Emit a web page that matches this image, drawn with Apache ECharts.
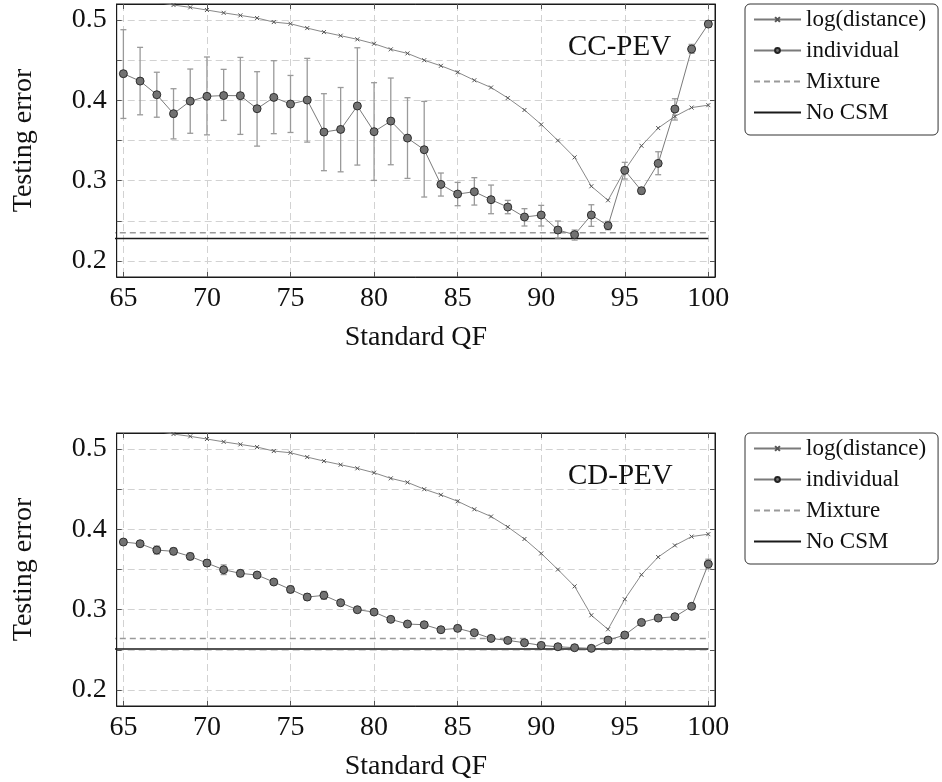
<!DOCTYPE html>
<html>
<head>
<meta charset="utf-8">
<script src="https://cdn.jsdelivr.net/npm/echarts@6/dist/echarts.min.js"></script>
<style>
html,body{margin:0;padding:0;background:#fff;}
#chart{width:942px;height:782px;}
</style>
</head>
<body>
<div id="chart"></div>
<script>
// ---- data ----
const qf = [65,66,67,68,69,70,71,72,73,74,75,76,77,78,79,80,81,82,83,84,85,86,87,88,89,90,91,92,93,94,95,96,97,98,99,100];
const logDistance = [0.530,0.526,0.522,0.5187,0.5158,0.5125,0.509,0.5058,0.5025,0.4975,0.4954,0.490,0.485,0.4805,0.476,0.4705,0.4635,0.4585,0.450,0.443,0.435,0.425,0.416,0.403,0.388,0.370,0.350,0.329,0.293,0.2755,0.313,0.3435,0.3655,0.380,0.391,0.394];

const ccIndividual = [0.4332,0.424,0.407,0.3834,0.399,0.405,0.406,0.4058,0.3896,0.4037,0.3954,0.4004,0.3605,0.3638,0.393,0.361,0.3742,0.353,0.3385,0.2953,0.2833,0.2862,0.2763,0.2671,0.2547,0.2572,0.2385,0.2327,0.2572,0.2439,0.3128,0.2875,0.3215,0.3892,0.4639,0.495];
const ccUpper = [0.488,0.466,0.435,0.4145,0.439,0.454,0.4386,0.4535,0.4357,0.4494,0.431,0.4523,0.4083,0.416,0.4655,0.422,0.4278,0.4033,0.3987,0.3095,0.2978,0.3037,0.2945,0.2754,0.2651,0.2692,0.2497,0.2385,0.270,0.2493,0.3228,0.2912,0.336,0.402,0.4697,0.499];
const ccLower = [0.3775,0.382,0.379,0.352,0.359,0.357,0.375,0.3576,0.343,0.3585,0.360,0.348,0.3124,0.311,0.3194,0.3003,0.3198,0.3028,0.2796,0.2808,0.2688,0.2696,0.2588,0.2588,0.2435,0.2435,0.2285,0.226,0.2431,0.2389,0.302,0.2833,0.3074,0.3755,0.4585,0.491];
const ccMixture = 0.2352;
const ccNoCSM = 0.2281;

const cdIndividual = [0.3842,0.3821,0.3742,0.3726,0.3663,0.358,0.3497,0.3452,0.3431,0.3344,0.3252,0.3157,0.3178,0.3086,0.2999,0.297,0.2879,0.2821,0.2812,0.275,0.2767,0.2713,0.2642,0.2617,0.2588,0.2555,0.2538,0.2526,0.2518,0.2621,0.2684,0.2841,0.2895,0.2912,0.3041,0.3568];
const cdError = [0.003,0.003,0.005,0.004,0.004,0.004,0.006,0.004,0.003,0.003,0.004,0.004,0.005,0.003,0.002,0.002,0.002,0.002,0.002,0.002,0.002,0.002,0.002,0.002,0.002,0.002,0.002,0.002,0.002,0.002,0.002,0.002,0.002,0.002,0.003,0.006];
const cdMixture = 0.2642;
const cdNoCSM = 0.2509;

const baselineSpan = [60, 100];
const xTicks = [65,70,75,80,85,90,95,100];
const yTicks = [0.2,0.25,0.3,0.35,0.4,0.45,0.5];
const yTickLabels = [0.2,0.3,0.4,0.5];
const panelNames = ['CC-PEV','CD-PEV'];
const legendNames = ['log(distance)','individual','Mixture','No CSM'];

// ---- chart ----
const FONT = 'Liberation Serif';
const chart = echarts.init(document.getElementById('chart'), null, {renderer:'canvas'});

const gridTops = [4, 433];
const gridH = 273;
const panels = [
  {mean: ccIndividual, hi: ccUpper, lo: ccLower, mix: ccMixture, nocsm: ccNoCSM},
  {mean: cdIndividual, hi: cdIndividual.map((v,i)=>v+cdError[i]), lo: cdIndividual.map((v,i)=>v-cdError[i]), mix: cdMixture, nocsm: cdNoCSM}
];

const grids = [], xAxes = [], yAxes = [], series = [], titles = [], legends = [];
const crossPath = 'path://M0,0L10,10M10,0L0,10';

panels.forEach((p, k) => {
  grids.push({left: 116.7, width: 598.3, top: gridTops[k], height: gridH, show: true, borderColor: '#1a1a1a', borderWidth: 1, backgroundColor: 'transparent'});
  const splitStyle = {show: true, lineStyle: {color: '#d2d2d2', width: 1, type: [7,4]}};
  xAxes.push({
    type: 'value', gridIndex: k, min: 64.6, max: 100.4, minInterval: 5, maxInterval: 5, position: 'bottom',
    axisLine: {show: true, onZero: false, lineStyle: {color: '#1a1a1a', width: 1}},
    axisTick: {show: true, inside: true, length: 5, customValues: xTicks, lineStyle: {color: '#555'}},
    axisLabel: {show: true, customValues: xTicks, fontFamily: FONT, fontSize: 28, color: '#111', margin: 8},
    splitLine: splitStyle,
    name: 'Standard QF', nameLocation: 'middle', nameGap: 47,
    nameTextStyle: {fontFamily: FONT, fontSize: 28, color: '#111'}
  });
  xAxes.push({
    type: 'value', gridIndex: k, min: 64.6, max: 100.4, minInterval: 5, maxInterval: 5, position: 'top',
    axisLine: {show: true, onZero: false, lineStyle: {color: '#1a1a1a', width: 1}},
    axisTick: {show: true, inside: true, length: 5, customValues: xTicks, lineStyle: {color: '#555'}},
    axisLabel: {show: false}, splitLine: {show: false}
  });
  yAxes.push({
    type: 'value', gridIndex: k, min: 0.18, max: 0.52, minInterval: 0.05, maxInterval: 0.05, position: 'left',
    axisLine: {show: true, onZero: false, lineStyle: {color: '#1a1a1a', width: 1}},
    axisTick: {show: true, inside: true, length: 5, customValues: yTicks, lineStyle: {color: '#555'}},
    axisLabel: {show: true, customValues: yTickLabels, fontFamily: FONT, fontSize: 28, color: '#111', margin: 10,
      formatter: v => v.toFixed(1)},
    splitLine: splitStyle,
    name: 'Testing error', nameLocation: 'middle', nameGap: 79, nameRotate: 90,
    nameTextStyle: {fontFamily: FONT, fontSize: 28, color: '#111'}
  });
  yAxes.push({
    type: 'value', gridIndex: k, min: 0.18, max: 0.52, minInterval: 0.05, maxInterval: 0.05, position: 'right',
    axisLine: {show: true, onZero: false, lineStyle: {color: '#1a1a1a', width: 1}},
    axisTick: {show: true, inside: true, length: 5, customValues: yTicks, lineStyle: {color: '#555'}},
    axisLabel: {show: false}, splitLine: {show: false}
  });
  const xi = 2*k, yi = 2*k;

  series.push({
    type: 'line', name: 'Mixture', xAxisIndex: xi, yAxisIndex: yi, silent: true, z: 2,
    data: baselineSpan.map(x => [x, p.mix]), symbol: 'none',
    lineStyle: {color: '#9a9a9a', width: 1.5, type: [6,4]}, itemStyle: {color: '#9a9a9a'}
  });
  series.push({
    type: 'line', name: 'No CSM', xAxisIndex: xi, yAxisIndex: yi, silent: true, z: 2,
    data: baselineSpan.map(x => [x, p.nocsm]), symbol: 'none',
    lineStyle: {color: '#1a1a1a', width: 1.5}, itemStyle: {color: '#1a1a1a'}
  });
  series.push({
    type: 'line', name: 'log(distance)', xAxisIndex: xi, yAxisIndex: yi, silent: true, z: 3,
    data: qf.map((x,i) => [x, logDistance[i]]),
    symbol: crossPath, symbolSize: 4, showAllSymbol: true,
    lineStyle: {color: '#7a7a7a', width: 0.9},
    itemStyle: {color: 'rgba(0,0,0,0)', borderColor: '#555', borderWidth: 1}
  });
  series.push({
    type: 'custom', xAxisIndex: xi, yAxisIndex: yi, silent: true, z: 3,
    data: qf.map((x,i) => [x, p.lo[i], p.hi[i]]),
    renderItem: (params, api) => {
      const a = api.coord([api.value(0), api.value(1)]);
      const b = api.coord([api.value(0), api.value(2)]);
      const w = 3;
      const st = {stroke: '#9a9a9a', lineWidth: 1.3, fill: null};
      return {type: 'group', children: [
        {type: 'line', shape: {x1: a[0], y1: a[1], x2: b[0], y2: b[1]}, style: st},
        {type: 'line', shape: {x1: a[0]-w, y1: a[1], x2: a[0]+w, y2: a[1]}, style: st},
        {type: 'line', shape: {x1: b[0]-w, y1: b[1], x2: b[0]+w, y2: b[1]}, style: st}
      ]};
    }
  });
  series.push({
    type: 'line', name: 'individual', xAxisIndex: xi, yAxisIndex: yi, silent: true, z: 4,
    data: qf.map((x,i) => [x, p.mean[i]]),
    symbol: 'circle', symbolSize: 8, showAllSymbol: true,
    lineStyle: {color: '#7a7a7a', width: 1},
    itemStyle: {color: '#727272', borderColor: '#222', borderWidth: 0.9}
  });

  titles.push({text: panelNames[k], left: 563, top: gridTops[k] + 24,
    textStyle: {fontFamily: FONT, fontSize: 29, fontWeight: 'normal', color: '#111'}});

  legends.push({
    orient: 'vertical', left: 745, top: gridTops[k],
    data: legendNames.map((n, i) => i < 2 ? {name: n} : {name: n, itemStyle: {opacity: 0}}),
    padding: [4, 12, 11, 8], itemGap: 8, itemWidth: 47, itemHeight: 6,
    borderColor: '#333', borderWidth: 1, borderRadius: 5, backgroundColor: '#fff',
    selectedMode: false,
    textStyle: {fontFamily: FONT, fontSize: 23, color: '#111', padding: [0,0,0,0]}
  });
});

chart.setOption({
  animation: false,
  backgroundColor: '#fff',
  title: titles,
  legend: legends,
  grid: grids,
  xAxis: xAxes,
  yAxis: yAxes,
  series: series
});
</script>
</body>
</html>
